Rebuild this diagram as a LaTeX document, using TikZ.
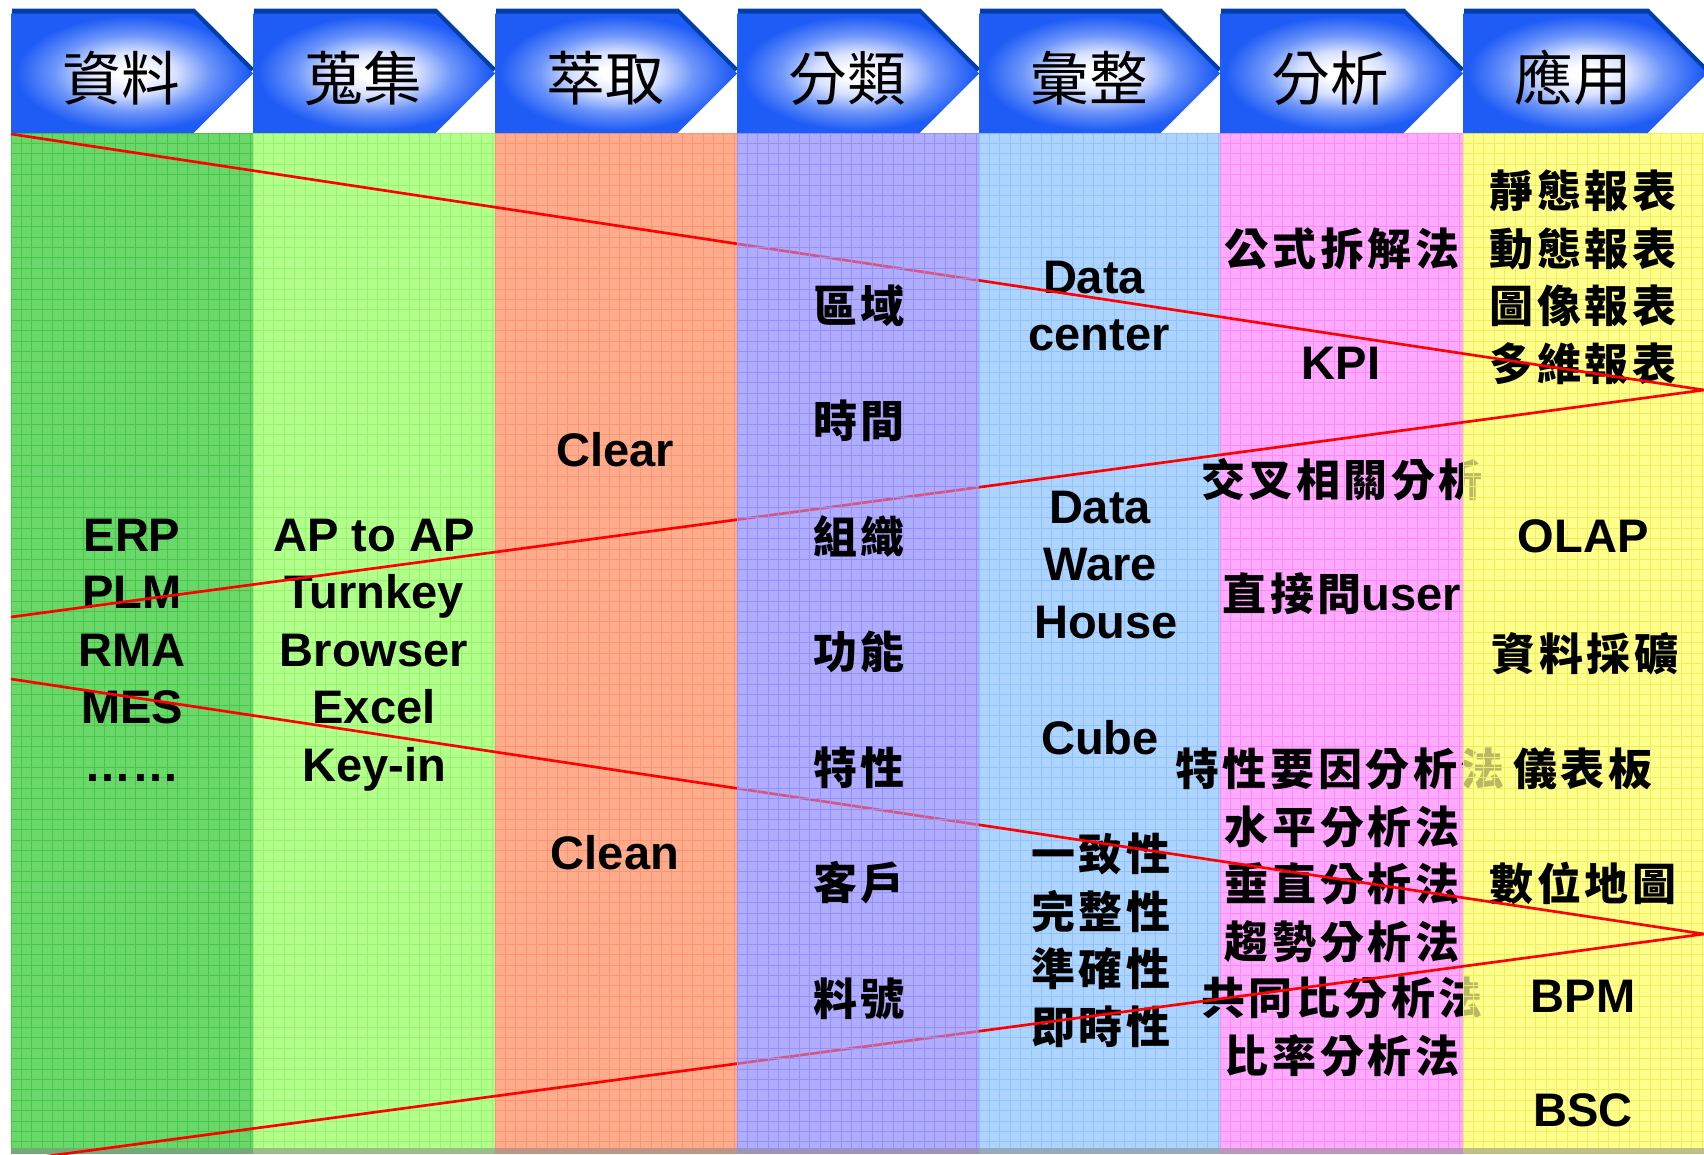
\documentclass[tikz,border=0pt]{standalone}
\usepackage{fontspec}
\setmainfont{Liberation Sans}
\newfontfamily\cjkfont{Noto Sans CJK TC}[LetterSpace=8]
\newfontfamily\cjkhead{Noto Sans CJK TC}
\newcommand\latf{\fontsize{35.3pt}{40pt}\selectfont\bfseries}
\newcommand\cjkb{\cjkfont\fontsize{33pt}{38pt}\selectfont\bfseries}
\newcommand\cjkh{\cjkhead\fontsize{44pt}{50pt}\selectfont}
\definecolor{cA}{RGB}{105,215,105}\definecolor{gA}{RGB}{70,200,70}
\definecolor{cB}{RGB}{178,255,140}\definecolor{gB}{RGB}{150,245,110}
\definecolor{cC}{RGB}{255,172,140}\definecolor{gC}{RGB}{250,150,115}
\definecolor{cD}{RGB}{176,172,255}\definecolor{gD}{RGB}{148,146,248}
\definecolor{cE}{RGB}{172,212,255}\definecolor{gE}{RGB}{146,194,250}
\definecolor{cF}{RGB}{255,170,255}\definecolor{gF}{RGB}{248,140,248}
\definecolor{cG}{RGB}{255,255,140}\definecolor{gG}{RGB}{238,238,100}
\definecolor{chevblue}{RGB}{30,92,245}
\definecolor{chevmid}{RGB}{110,150,250}
\definecolor{chevlight}{RGB}{215,224,255}
\definecolor{chevdark}{RGB}{0,62,170}
\pgfdeclareradialshading{chevshade}{\pgfpoint{0bp}{0bp}}{color(0bp)=(white); color(3bp)=(white); color(9bp)=(chevlight); color(16bp)=(chevmid); color(24bp)=(chevblue); color(50bp)=(chevblue)}
\newcommand\colgrid[3]{%
  \begin{scope}
    \clip (#1,133) rectangle (#2,1148);
    \draw[#3, line width=0.75pt]
      foreach \gk in {0,...,24} {({#1+10.4*\gk},133) -- ({#1+10.4*\gk},1148)}
      foreach \gk in {0,...,98} {(#1,{133+10.4*\gk}) -- (#2,{133+10.4*\gk})};
  \end{scope}}
\tikzset{
  txt/.style={anchor=base, inner sep=0pt, text=black},
  lat/.style={txt, font=\latf},
  cjk/.style={txt, font=\cjkb},
  redln/.style={draw=red, line width=2pt, line join=round}
}
\begin{document}
\begin{tikzpicture}[x=0.75pt, y=-0.75pt]
\useasboundingbox (0,0) rectangle (1704,1154);
\clip (0,0) rectangle (1704,1154);
\fill[white] (0,0) rectangle (1704,1154);
% column fills
\fill[cA] (11,133) rectangle (253,1148);
\fill[cB] (253,133) rectangle (495,1148);
\fill[cC] (495,133) rectangle (737,1148);
\fill[cD] (737,133) rectangle (979,1148);
\fill[cE] (979,133) rectangle (1220,1148);
\fill[cF] (1220,133) rectangle (1463,1148);
\fill[cG] (1463,133) rectangle (1704,1148);
\colgrid{11}{253}{gA}
\colgrid{253}{495}{gB}
\colgrid{495}{737}{gC}
\colgrid{979}{1220}{gE}
\colgrid{1220}{1463}{gF}
% column 6 text (partly covered by column 7)
\node[cjk] (f1) at (1342,265) {公式拆解法};
\node[lat] (f2) at (1341,379) {KPI};
\node[cjk] (f3) at (1342,496) {交叉相關分析};
\node[txt] (f4) at (1342,610) {{\cjkb 直接問}{\latf user}};
\node[cjk] (f5) at (1340,785) {特性要因分析法};
\node[cjk] (f6) at (1342,843) {水平分析法};
\node[cjk] (f7) at (1342,900.5) {垂直分析法};
\node[cjk] (f8) at (1342,958) {趨勢分析法};
\node[cjk] (f9) at (1342,1014.6) {共同比分析法};
\node[cjk] (f10) at (1342,1072) {比率分析法};
% column 7 overlay
\fill[cG, opacity=0.72] (1463,133) rectangle (1704,1148);
\colgrid{1463}{1704}{gG}
% column 1
\node[lat] (a1) at (132,551) {ERP};
\node[lat] (a2) at (132,608.5) {PLM};
\node[lat] (a3) at (132,666) {RMA};
\node[lat] (a4) at (132,723.5) {MES};
\node[lat] (a5) at (132,781) {……};
% column 2
\node[lat] (b1) at (374,551) {AP to AP};
\node[lat] (b2) at (374,608.5) {Turnkey};
\node[lat] (b3) at (374,666) {Browser};
\node[lat] (b4) at (374,723.5) {Excel};
\node[lat] (b5) at (374,781) {Key-in};
% column 3
\node[lat] (c1) at (615,466) {Clear};
\node[lat] (c2) at (615,869) {Clean};
% column 5
\node[lat] (e1) at (1094,293) {Data};
\node[lat] (e2) at (1099,350.5) {center};
\node[lat] (e3) at (1100,523) {Data};
\node[lat] (e4) at (1100,580.5) {Ware};
\node[lat] (e5) at (1106,638) {House};
\node[lat] (e6) at (1100,754) {Cube};
\node[cjk] (e7) at (1101,870) {一致性};
\node[cjk] (e8) at (1101,928) {完整性};
\node[cjk] (e9) at (1101,985) {準確性};
\node[cjk] (e10) at (1101,1043) {即時性};
% column 7
\node[cjk] (g1) at (1583,207) {靜態報表};
\node[cjk] (g2) at (1583,265) {動態報表};
\node[cjk] (g3) at (1583,322) {圖像報表};
\node[cjk] (g4) at (1583,380) {多維報表};
\node[lat] (g5) at (1583,552) {OLAP};
\node[cjk] (g6) at (1585,670) {資料採礦};
\node[cjk] (g7) at (1583,785) {儀表板};
\node[cjk] (g8) at (1583,900.5) {數位地圖};
\node[lat] (g9) at (1583,1012.5) {BPM};
\node[lat] (g10) at (1583,1126.5) {BSC};
% bottom strip
\fill[cA!50!gray] (11,1148) rectangle (253,1154);
\fill[cB!50!gray] (253,1148) rectangle (495,1154);
\fill[cC!50!gray] (495,1148) rectangle (737,1154);
\fill[cD!50!gray] (737,1148) rectangle (979,1154);
\fill[cE!50!gray] (979,1148) rectangle (1220,1154);
\fill[cF!50!gray] (1220,1148) rectangle (1463,1154);
\fill[cG!50!gray] (1463,1148) rectangle (1704,1154);
% red lines
\coordinate (r1s) at (11,134);
\coordinate (ap1) at (1704,390);
\coordinate (r2s) at (11,617);
\coordinate (r3s) at (11,679);
\coordinate (ap2) at (1704,934);
\coordinate (r4s) at (11,1161);
\draw[redln] (r1s) -- (ap1) -- (r2s);
\draw[redln] (r3s) -- (ap2) -- (r4s);
% column 4 overlay
\fill[cD, opacity=0.5] (737,133) rectangle (979,1148);
\colgrid{737}{979}{gD}
\fill[cD!50!gray] (737,1148) rectangle (979,1154);
\node[cjk] (d1) at (859,322) {區域};
\node[cjk] (d2) at (859,437.5) {時間};
\node[cjk] (d3) at (859,553) {組織};
\node[cjk] (d4) at (859,668.5) {功能};
\node[cjk] (d5) at (859,784) {特性};
\node[cjk] (d6) at (859,899.5) {客戶};
\node[cjk] (d7) at (859,1015) {料號};
% chevrons
\foreach \L/\T/\txt/\nm in {11/253/資料/h1, 253/495/蒐集/h2, 495/737/萃取/h3, 737/979/分類/h4, 979/1220/彙整/h5, 1220/1463/分析/h6, 1463/1707/應用/h7}{
  \fill[chevdark] ({\L+1},8.5) -- ({\T-58.5},8.5) -- ({\T+1},68.5) -- ({\T-58.5},128.5) -- ({\L+1},128.5) -- cycle;
  \shade[shading=chevshade] (\L,13.5) -- ({\T-59.5},13.5) -- (\T,73.5) -- ({\T-59.5},133) -- (\L,133) -- cycle;
  \node[txt, font=\cjkh] (\nm) at ({\L+110},100) {\txt};
}
\end{tikzpicture}
\end{document}
